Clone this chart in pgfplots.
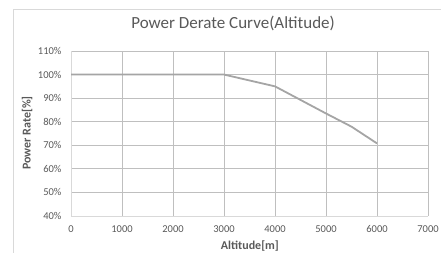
\documentclass[border=0pt]{standalone}
\usepackage{pgfplots}
\pgfplotsset{compat=1.18}
\usepackage{fontspec}
\setmainfont{Carlito}
\definecolor{txt}{HTML}{595959}
\definecolor{grid}{HTML}{D9D9D9}
\definecolor{line}{HTML}{A5A5A5}
\begin{document}
\begin{tikzpicture}[x=1pt,y=1pt]
\path[use as bounding box] (0,0) rectangle (441,253);
\draw[grid, line width=0.8pt] (13,0) -- (13,244) -- (441,244);
\begin{axis}[
  scale only axis,
  at={(71pt,37pt)}, anchor=south west,
  width=357pt, height=165pt,
  xmin=0, xmax=7000, ymin=40, ymax=110,
  xtick={0,1000,...,7000},
  ytick={40,50,...,110},
  yticklabel={\pgfmathprintnumber{\tick}\%},
  /pgf/number format/assume math mode=true,
  /pgf/number format/set thousands separator={},
  grid=major,
  major grid style={grid, line width=0.8pt},
  axis line style={grid, line width=0.8pt},
  axis x line*=bottom, axis y line*=left,
  tick style={draw=none},
  ticklabel style={font=\fontsize{10.5}{12}\selectfont, text=txt},
  xticklabel style={yshift=-6pt},
  yticklabel style={xshift=-6pt},
  xlabel={Altitude[m]},
  ylabel={Power Rate[\%]},
  xlabel style={font=\fontsize{12}{14}\selectfont\bfseries, text=txt, at={(axis description cs:0.501,-0.203)}, anchor=base},
  ylabel style={font=\fontsize{12}{14}\selectfont\bfseries, text=txt, at={(axis description cs:-0.123,0.503)}, anchor=center, rotate=0},
  title={Power Derate Curve(Altitude)},
  title style={font=\fontsize{17}{20}\selectfont, text=txt, at={(axis description cs:0.454,1.101)}, anchor=base},
]
\addplot[line, line width=1.8pt, no marks] coordinates {
 (0,100) (1000,100) (2000,100) (3000,100) (4000,95) (5000,83.5) (5500,77.9) (6000,70.8)
};
\end{axis}
\end{tikzpicture}
\end{document}
